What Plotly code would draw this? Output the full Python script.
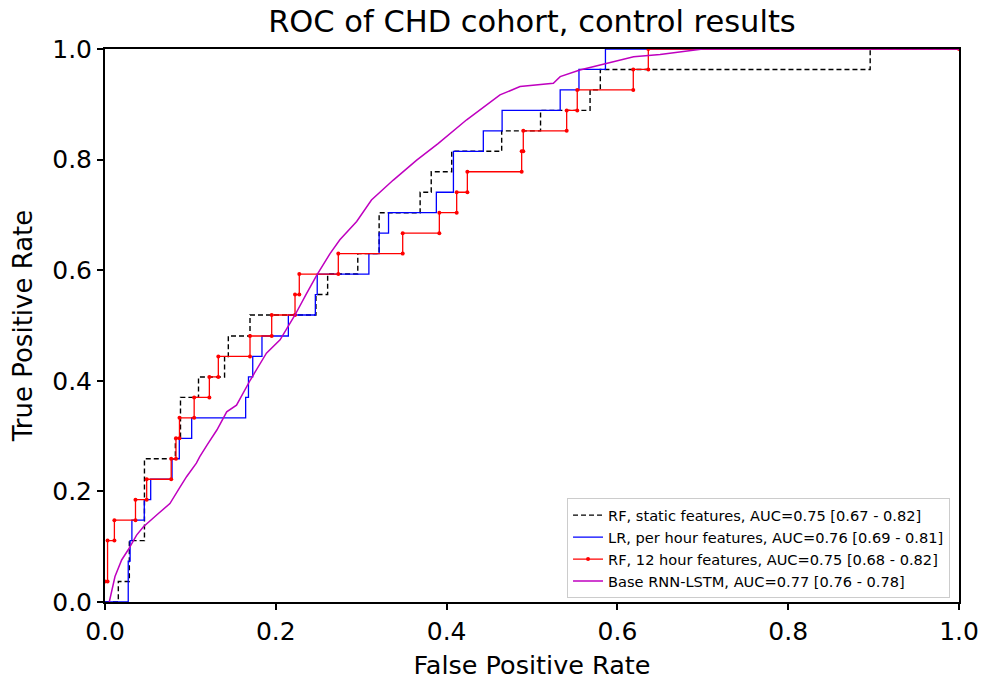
import plotly.graph_objects as go

# ---------------- data (ROC points: fpr, tpr) ----------------
rf_static_fpr = [0, 0.0156, 0.0156, 0.0285, 0.0285, 0.0462, 0.0462, 0.0824, 0.0824, 0.0884, 0.0884,
                 0.1095, 0.1095, 0.140, 0.140, 0.1444, 0.1444, 0.1698, 0.1698, 0.247, 0.247,
                 0.2607, 0.2607, 0.296, 0.296, 0.321, 0.321, 0.369, 0.369, 0.382, 0.382,
                 0.406, 0.406, 0.4645, 0.4645, 0.510, 0.510, 0.568, 0.568, 0.580, 0.580,
                 0.896, 0.896, 1.0]
rf_static_tpr = [0, 0, 0.037, 0.037, 0.111, 0.111, 0.259, 0.259, 0.296, 0.296, 0.370,
                 0.370, 0.407, 0.407, 0.444, 0.444, 0.481, 0.481, 0.519, 0.519, 0.556,
                 0.556, 0.593, 0.593, 0.630, 0.630, 0.704, 0.704, 0.741, 0.741, 0.778,
                 0.778, 0.815, 0.815, 0.852, 0.852, 0.889, 0.889, 0.926, 0.926, 0.963,
                 0.963, 1.0, 1.0]

lr_fpr = [0, 0.0272, 0.0272, 0.0294, 0.0294, 0.0315, 0.0315, 0.046, 0.046, 0.0535, 0.0535,
          0.0785, 0.0785, 0.087, 0.087, 0.1015, 0.1015, 0.1647, 0.1647, 0.168, 0.168,
          0.173, 0.173, 0.1838, 0.1838, 0.2147, 0.2147, 0.2463, 0.2463, 0.2485, 0.2485,
          0.309, 0.309, 0.321, 0.321, 0.332, 0.332, 0.388, 0.388, 0.408, 0.408,
          0.443, 0.443, 0.465, 0.465, 0.533, 0.533, 0.555, 0.555, 0.586, 0.586, 1.0]
lr_tpr = [0, 0, 0.074, 0.074, 0.111, 0.111, 0.148, 0.148, 0.185, 0.185, 0.222,
          0.222, 0.259, 0.259, 0.296, 0.296, 0.333, 0.333, 0.370, 0.370, 0.407,
          0.407, 0.444, 0.444, 0.481, 0.481, 0.519, 0.519, 0.556, 0.556, 0.593,
          0.593, 0.630, 0.630, 0.667, 0.667, 0.704, 0.704, 0.741, 0.741, 0.815,
          0.815, 0.852, 0.852, 0.889, 0.889, 0.926, 0.926, 0.963, 0.963, 1.0, 1.0]

rf12_fpr = [0, 0.003, 0.003, 0.011, 0.011, 0.0357, 0.0357, 0.0488, 0.0488, 0.0775, 0.0775,
            0.0831, 0.0831, 0.0872, 0.0872, 0.1044, 0.1044, 0.1222, 0.1222, 0.1327, 0.1327,
            0.1698, 0.1698, 0.1952, 0.1952, 0.2225, 0.2225, 0.2275, 0.2275, 0.2732, 0.2732,
            0.3486, 0.3486, 0.3915, 0.3915, 0.4118, 0.4118, 0.4243, 0.4243, 0.4879, 0.4879,
            0.4898, 0.4898, 0.5406, 0.5406, 0.553, 0.553, 0.6186, 0.6186, 0.6362, 0.6362, 1.0]
rf12_tpr = [0.037, 0.037, 0.111, 0.111, 0.148, 0.148, 0.185, 0.185, 0.222, 0.222, 0.259,
            0.259, 0.296, 0.296, 0.333, 0.333, 0.370, 0.370, 0.407, 0.407, 0.444,
            0.444, 0.481, 0.481, 0.519, 0.519, 0.556, 0.556, 0.593, 0.593, 0.630,
            0.630, 0.667, 0.667, 0.704, 0.704, 0.741, 0.741, 0.778, 0.778, 0.815,
            0.815, 0.852, 0.852, 0.889, 0.889, 0.926, 0.926, 0.963, 0.963, 1.0, 1.0]

rnn_fpr = [0.005, 0.0117, 0.0195, 0.027, 0.037, 0.045, 0.0625, 0.076, 0.088, 0.0957, 0.107,
           0.111, 0.12, 0.131, 0.1425, 0.154, 0.170, 0.1815, 0.189, 0.205, 0.2225, 0.235,
           0.248, 0.2635, 0.275, 0.2947, 0.312, 0.3376, 0.365, 0.390, 0.4235, 0.4625,
           0.486, 0.525, 0.533, 0.556, 0.58, 0.619, 0.65, 0.693, 0.70, 1.0]
rnn_tpr = [0.0, 0.046, 0.076, 0.094, 0.121, 0.136, 0.160, 0.178, 0.208, 0.227, 0.251,
           0.263, 0.285, 0.311, 0.344, 0.356, 0.401, 0.432, 0.450, 0.474, 0.519, 0.555,
           0.591, 0.630, 0.655, 0.688, 0.727, 0.763, 0.799, 0.829, 0.872, 0.917,
           0.932, 0.938, 0.950, 0.962, 0.971, 0.986, 0.990, 0.998, 1.0, 1.0]

labels = [
    "RF, static features, AUC=0.75 [0.67 - 0.82]",
    "LR, per hour features, AUC=0.76 [0.69 - 0.81]",
    "RF, 12 hour features, AUC=0.75 [0.68 - 0.82]",
    "Base RNN-LSTM, AUC=0.77 [0.76 - 0.78]",
]
ticks = [0.0, 0.2, 0.4, 0.6, 0.8, 1.0]
tick_text = ["0.0", "0.2", "0.4", "0.6", "0.8", "1.0"]

FONT = "DejaVu Sans"

fig = go.Figure()
fig.add_trace(go.Scatter(x=rf_static_fpr, y=rf_static_tpr, mode="lines", name=labels[0],
                         legendgroup="a",
                         line=dict(color="black", width=1.4, dash="5px,3px")))
fig.add_trace(go.Scatter(x=lr_fpr, y=lr_tpr, mode="lines", name=labels[1],
                         legendgroup="b",
                         line=dict(color="#0000ff", width=1.3)))
fig.add_trace(go.Scatter(x=rf12_fpr, y=rf12_tpr, mode="lines+markers", name=labels[2],
                         legendgroup="c",
                         line=dict(color="#ff0000", width=1.3),
                         marker=dict(color="#ff0000", size=4)))
fig.add_trace(go.Scatter(x=rnn_fpr, y=rnn_tpr, mode="lines", name=labels[3],
                         legendgroup="d",
                         line=dict(color="#bf00bf", width=1.5)))

axis_common = dict(
    range=[0, 1], tickvals=ticks, ticktext=tick_text, automargin=False,
    showline=True, linecolor="black", linewidth=2, mirror=True,
    ticks="outside", ticklen=6, tickwidth=1.5, tickcolor="black",
    showgrid=False, zeroline=False,
    tickfont=dict(family=FONT, size=25, color="black"),
)

fig.update_layout(
    width=982, height=682,
    margin=dict(l=105, r=23, t=49, b=80, autoexpand=False),
    paper_bgcolor="white", plot_bgcolor="white",
    font=dict(family=FONT, color="black"),
    title=dict(text="ROC of CHD cohort, control results", x=0.5417, xanchor="center",
               y=0.968, yanchor="middle", yref="container",
               font=dict(family=FONT, size=30.5, color="black")),
    xaxis=dict(axis_common, title=dict(text="False Positive Rate",
                                       font=dict(family=FONT, size=25.5), standoff=11)),
    yaxis=dict(axis_common, title=dict(text="True Positive Rate",
                                       font=dict(family=FONT, size=26), standoff=12)),
    legend=dict(x=0.9895, y=0.007, xanchor="right", yanchor="bottom",
                bgcolor="white", bordercolor="#cccccc", borderwidth=1,
                font=dict(family=FONT, size=14.6, color="black"),
                tracegroupgap=0, traceorder="grouped"),
    showlegend=True,
)

fig.write_html("out.html")
